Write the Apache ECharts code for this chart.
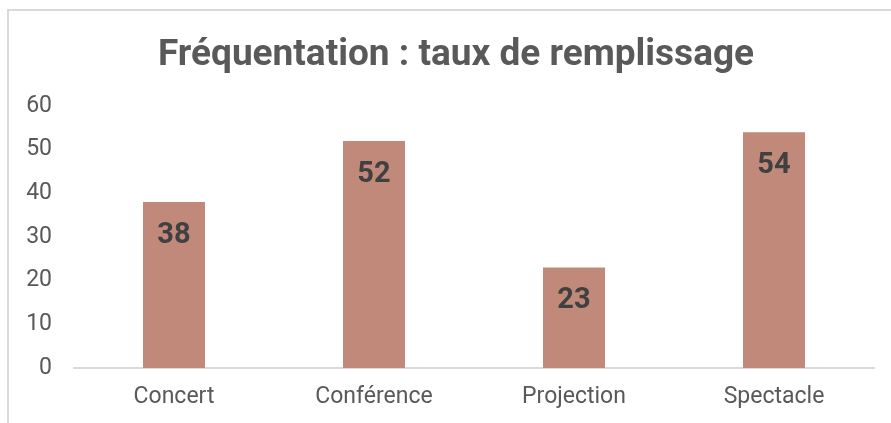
<!DOCTYPE html>
<html>
<head>
<meta charset="utf-8">
<script src="https://cdn.jsdelivr.net/npm/echarts@6/dist/echarts.min.js"></script>
<style>
  html, body { margin: 0; padding: 0; background: #fff; }
  #chart { width: 891px; height: 423px; }
</style>
</head>
<body>
<div id="chart"></div>
<script>
const categories = ['Concert', 'Conférence', 'Projection', 'Spectacle'];
const values = [38, 52, 23, 54];
const yTicks = [0, 10, 20, 30, 40, 50, 60];

let myChart = echarts.init(document.getElementById('chart'));
let option = {
    textStyle: { fontFamily: 'Roboto' },
    graphic: [
        {
            type: 'rect',
            shape: { x: 8, y: 10, width: 900, height: 500 },
            style: { fill: 'none', stroke: '#d9d9d9', lineWidth: 2 },
            silent: true
        }
    ],
    title: {
        text: 'Fréquentation : taux de remplissage',
        left: 153,
        top: 32,
        textStyle: { fontFamily: 'Roboto', fontSize: 37, fontWeight: 'bold', color: '#595959' }
    },
    grid: { left: 74, right: 17, top: 106, bottom: 55 },
    xAxis: {
        type: 'category',
        data: categories,
        axisLine: { lineStyle: { color: '#d9d9d9', width: 2 } },
        axisTick: { show: false },
        axisLabel: { fontSize: 23, color: '#595959', margin: 18 }
    },
    yAxis: {
        type: 'value',
        min: yTicks[0],
        max: yTicks[yTicks.length - 1],
        interval: 10,
        splitLine: { show: false },
        axisLine: { show: false },
        axisTick: { show: false },
        axisLabel: { fontSize: 23, color: '#595959', margin: 22 }
    },
    series: [
        {
            type: 'bar',
            data: values,
            barWidth: '31%',
            itemStyle: { color: '#c0897a' },
            label: {
                show: true,
                position: 'insideTop',
                distance: 19,
                fontSize: 29,
                fontWeight: 'bold',
                color: '#404040'
            }
        }
    ]
};
myChart.setOption(option);
</script>
</body>
</html>
